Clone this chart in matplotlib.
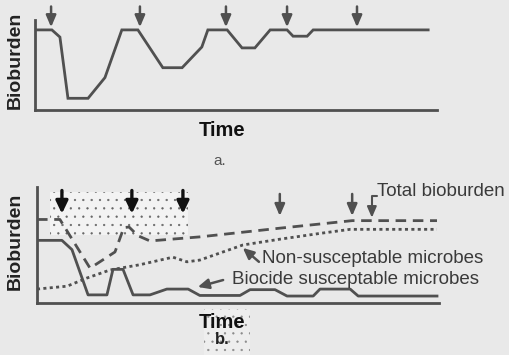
import matplotlib
matplotlib.use("Agg")
import matplotlib.pyplot as plt
from matplotlib.patches import Rectangle

plt.rcParams['font.family'] = ['Liberation Sans', 'DejaVu Sans']
plt.rcParams['hatch.linewidth'] = 0.4

# ---------------- data ----------------
# Panel a: bioburden over time with repeated biocide additions
a_time = [0, 4.2, 6.2, 8.2, 13.2, 17.4, 21.6, 25.6, 31.8, 36.6, 41.5, 43, 47.8,
          51.5, 54.7, 58.5, 62.7, 64.2, 67.7, 69.2, 97.8]
a_bio = [89, 89, 81, 13, 13, 36, 89, 89, 47, 47, 70, 89, 89,
         69, 69, 89, 89, 82, 82, 89, 89]
a_doses = [4.0, 26.1, 47.5, 62.7, 80.1]

# Panel b
b_sus_time = [0, 6.2, 8.7, 12.7, 17.4, 18.9, 21.4, 23.9, 28.1, 32.3, 37.6, 40.5,
              50.5, 53, 59.2, 62.2, 68.7, 70.4, 77.9, 79.9, 99.5]
b_sus = [54, 54, 46, 7, 7, 29, 29, 7, 7, 12, 12, 6.5,
         6.5, 11.5, 11.5, 6, 6, 12, 12, 6, 6]

b_tot_time = [0, 5.7, 13.2, 19.4, 21.6, 22.9, 25.1, 28.1, 40.5, 60.4, 78.4, 99.5]
b_tot = [72, 72, 30, 44, 65, 65.5, 58, 53.5, 57, 64.5, 71, 71]

b_non_time = [0, 7.5, 12.4, 18.2, 25.6, 33.8, 37.3, 40.5, 51.2, 60.4, 70.4, 77.9, 99.5]
b_non = [12, 14.5, 21.5, 28.5, 33, 39.5, 35.5, 37, 50, 55, 60, 63.5, 63.5]

b_doses_strong = [6.2, 23.6, 36.3]
b_doses_weak = [60.4, 78.4]

line_col = '#505050'
text_col = '#3a3a3a'
bg = '#e9e9e9'

W, H = 509, 355
fig = plt.figure(figsize=(W / 100, H / 100), dpi=100, facecolor=bg)


def add_axes_px(left, right, top, bottom):
    ax = fig.add_axes([left / W, 1 - bottom / H, (right - left) / W, (bottom - top) / H])
    ax.set_facecolor('none')
    for s in ['top', 'right']:
        ax.spines[s].set_visible(False)
    for s in ['left', 'bottom']:
        ax.spines[s].set_color(line_col)
        ax.spines[s].set_linewidth(2)
    ax.set_xticks([])
    ax.set_yticks([])
    ax.set_xlim(0, 100)
    ax.set_ylim(0, 100)
    return ax


def arrow(ax, xy, xytext, color, lw, hw, hl, conn=None):
    props = dict(arrowstyle=f'-|>,head_width={hw},head_length={hl}',
                 color=color, lw=lw, mutation_scale=10, shrinkA=0, shrinkB=0)
    if conn:
        props['connectionstyle'] = conn
    ax.annotate('', xy=xy, xytext=xytext, arrowprops=props, annotation_clip=False)


# ---------------- panel a ----------------
axa = add_axes_px(35, 437, 20, 110)
axa.plot(a_time, a_bio, color=line_col, lw=2.0, solid_joinstyle='miter')
for t in a_doses:
    arrow(axa, (t, 92), (t, 115), line_col, 1.8, 0.3, 0.7)

fig.text(15 / W, 1 - 60 / H, 'Bioburden', rotation=90, ha='center', va='center',
         fontsize=14, fontweight='bold', color='#222222')
fig.text(222 / W, 1 - 131 / H, 'Time', ha='center', va='center',
         fontsize=14.5, fontweight='bold', color='#111111')
fig.text(220 / W, 1 - 161 / H, 'a.', ha='center', va='center',
         fontsize=11, color='#555555')

# ---------------- panel b ----------------
axb = add_axes_px(37, 439, 187, 303)
axb.add_patch(Rectangle((3.2, 58.6), 34.4, 37.1, facecolor='#f3f3f3',
                        edgecolor='#666666', hatch='..', lw=0, zorder=0,
                        clip_on=False))
axb.plot(b_sus_time, b_sus, color=line_col, lw=2.0)
axb.plot(b_tot_time, b_tot, color=line_col, lw=2.0, dashes=(3.8, 2.4))
axb.plot(b_non_time, b_non, color=line_col, lw=2.0, dashes=(1.1, 1.2))

for t in b_doses_strong:
    arrow(axb, (t, 77), (t, 97), '#111111', 2.4, 0.36, 0.75)
for t in b_doses_weak:
    arrow(axb, (t, 75), (t, 94), line_col, 1.8, 0.3, 0.7)

# label: Total bioburden with hooked arrow
axb.text(84.6, 96.5, 'Total bioburden', ha='left', va='center', fontsize=13.5,
         color=text_col, clip_on=False)
arrow(axb, (83.3, 73.5), (84.6, 92.5), line_col, 1.5, 0.28, 0.65,
      conn='angle,angleA=180,angleB=90,rad=0')

axb.text(56, 38.5, 'Non-susceptable microbes', ha='left', va='center',
         fontsize=13.5, color=text_col, clip_on=False)
arrow(axb, (51.2, 47.5), (55.2, 35.5), line_col, 1.8, 0.3, 0.65)

axb.text(48.6, 20.5, 'Biocide susceptable microbes', ha='left', va='center',
         fontsize=13.5, color=text_col, clip_on=False)
arrow(axb, (40, 13.8), (46.3, 19.8), line_col, 1.8, 0.3, 0.65)

fig.text(15 / W, 1 - 241 / H, 'Bioburden', rotation=90, ha='center', va='center',
         fontsize=14, fontweight='bold', color='#222222')
fig.patches.append(Rectangle((204 / W, 0), 46 / W, 46 / H, transform=fig.transFigure,
                             facecolor='#eeeeee', edgecolor='#8a8a8a', hatch='..',
                             lw=0, zorder=0, figure=fig))
fig.text(222 / W, 1 - 322 / H, 'Time', ha='center', va='center',
         fontsize=14.5, fontweight='bold', color='#111111')
fig.text(222 / W, 1 - 340 / H, 'b.', ha='center', va='center',
         fontsize=12, fontweight='bold', color='#222222')

fig.savefig('out.png', dpi=100, facecolor=bg)
